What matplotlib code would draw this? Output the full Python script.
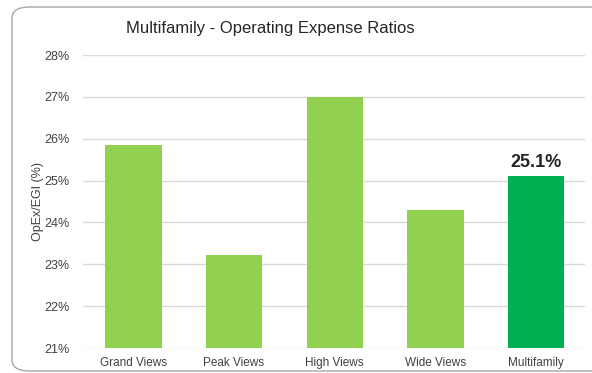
import matplotlib
matplotlib.use("Agg")
import matplotlib.pyplot as plt
from matplotlib.patches import FancyBboxPatch
from matplotlib.ticker import FuncFormatter

categories = ["Grand Views", "Peak Views", "High Views", "Wide Views", "Multifamily"]
values = [25.86, 23.22, 27.0, 24.29, 25.1]
colors = ["#92D050", "#92D050", "#92D050", "#92D050", "#00B050"]
yticks = [21, 22, 23, 24, 25, 26, 27, 28]
highlight_label = "25.1%"

plt.rcParams['font.family'] = ['Liberation Sans', 'DejaVu Sans']

fig = plt.figure(figsize=(5.92, 3.73), dpi=100)
W, H = 592, 373
ax = fig.add_axes([83 / W, 1 - 348 / H, (585 - 83) / W, (348 - 55) / H])

x = range(len(categories))
ax.bar(x, values, width=0.56, color=colors, zorder=3, bottom=0)
ax.set_ylim(21, 28)
ax.set_xlim(-0.5, 4.486)
ax.set_yticks(yticks)
ax.yaxis.set_major_formatter(FuncFormatter(lambda v, p: f"{int(v)}%"))
ax.set_xticks(list(x))
ax.set_xticklabels(categories)
ax.tick_params(axis='x', length=0, labelsize=8.5, colors="#404040", pad=13)
ax.tick_params(axis='y', length=0, labelsize=9, colors="#404040", pad=10)
for lbl in ax.get_xticklabels():
    lbl.set_verticalalignment('baseline')
ax.grid(axis='y', color="#d9d9d9", linewidth=1, zorder=0)
for s in ax.spines.values():
    s.set_visible(False)
ax.set_ylabel("OpEx/EGI (%)", fontsize=9, color="#404040", labelpad=0)

ax.text(4, values[4] + 0.13, highlight_label, ha='center', va='bottom',
        fontsize=13, fontweight='bold', color="#262626")

fig.text(270 / W, 1 - 28 / H, "Multifamily - Operating Expense Ratios",
         ha='center', va='center', fontsize=12, color="#262626")

border = FancyBboxPatch((12 / W, 1 - 371 / H), 600 / W, (371 - 7) / H,
                        boxstyle="round,pad=0,rounding_size=0.03",
                        transform=fig.transFigure, fill=False,
                        edgecolor="#a6a6a6", linewidth=1.0, clip_on=False)
fig.patches.append(border)

fig.savefig("out.png", dpi=100)
